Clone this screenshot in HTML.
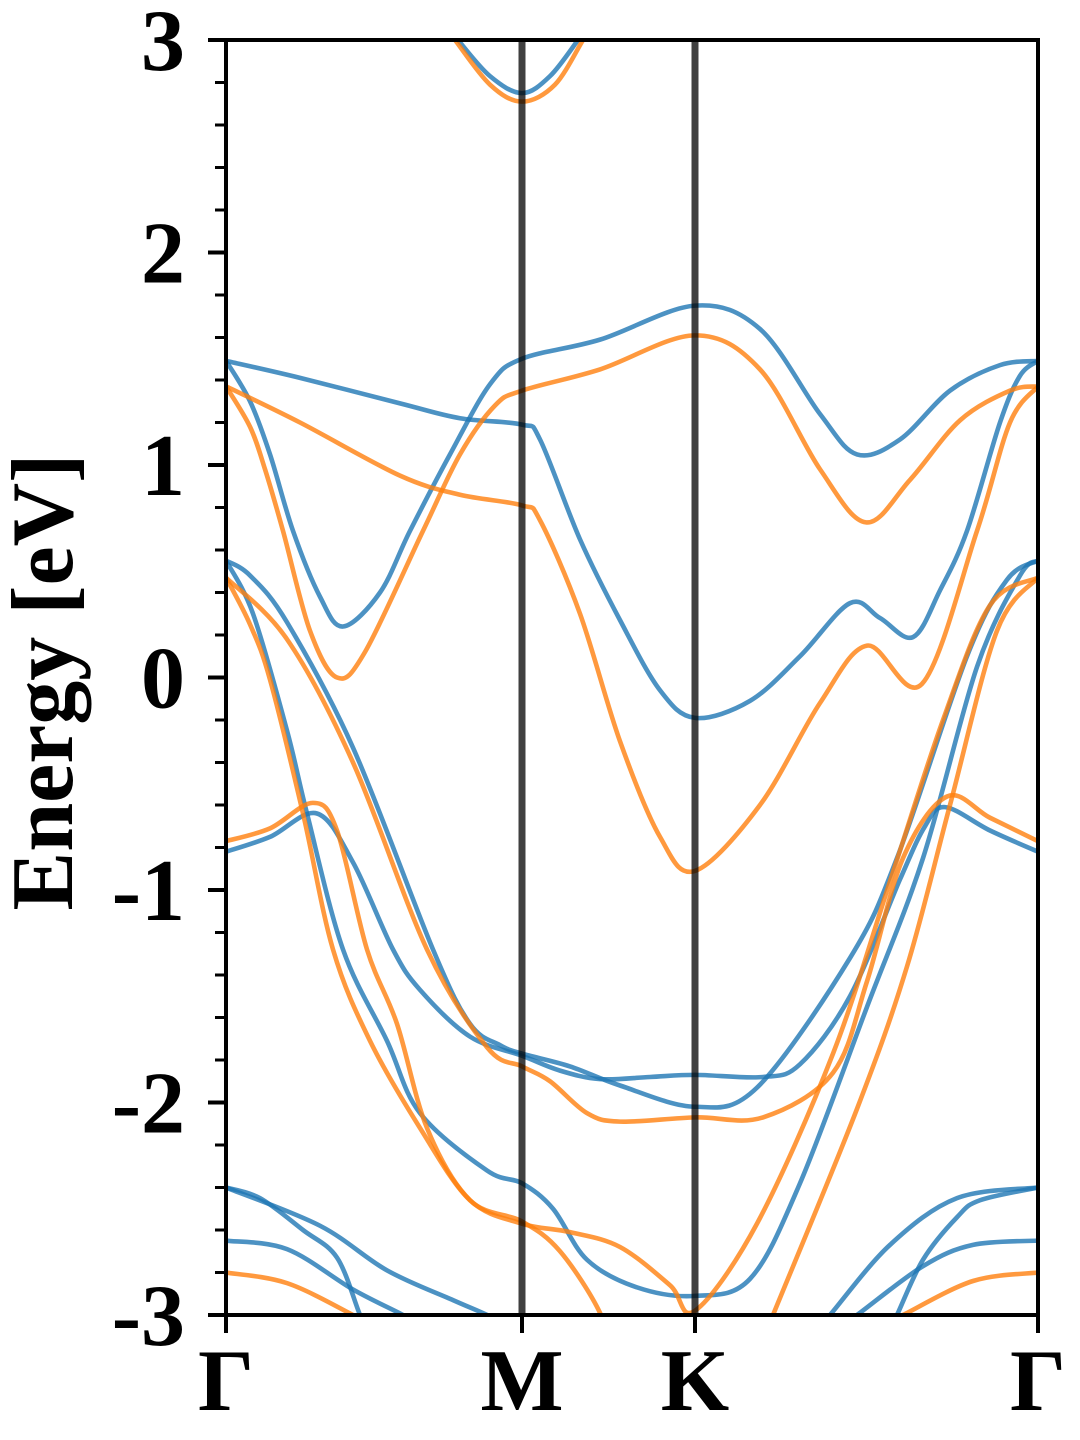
<!DOCTYPE html>
<html><head><meta charset="utf-8">
<style>
html,body{margin:0;padding:0;background:#fff;}
svg{display:block;}
text{font-family:"Liberation Serif",serif;font-weight:bold;fill:#000;}
</style></head>
<body>
<svg id="chart" width="1080" height="1440" viewBox="0 0 1080 1440" xmlns="http://www.w3.org/2000/svg">
<defs><clipPath id="plotclip"><rect x="226" y="40" width="812" height="1275"/></clipPath></defs>
<g id="bands" clip-path="url(#plotclip)"></g>
<g id="axes"></g>
</svg>
<script>
// k-path coordinates (path distance units) and high-symmetry labels
const kPoints = [0, 2.96, 4.69, 8.12];
const kLabels = ["Γ", "M", "K", "Γ"];
const yMajorTicks = [-3, -2, -1, 0, 1, 2, 3];
const yTickLabels = ["-3", "-2", "-1", "0", "1", "2", "3"];
const yMinorStep = 0.2;

// Spin-up bands (blue): [k, E] pairs
const blueBand1 = [[0,1.49],[0.74,1.41],[1.74,1.29],[2.34,1.22],[2.96,1.19],[3.14,1.12],[3.54,0.65],[3.94,0.27],[4.34,-0.06],[4.69,-0.19],[5.24,-0.11],[5.74,0.10],[6.24,0.35],[6.54,0.28],[6.87,0.19],[7.14,0.41],[7.41,0.69],[7.74,1.20],[7.94,1.42],[8.12,1.49]];
const blueBand2 = [[0,1.49],[0.24,1.30],[0.44,1.05],[0.67,0.69],[0.94,0.38],[1.17,0.24],[1.54,0.40],[1.84,0.69],[2.24,1.05],[2.64,1.38],[2.96,1.50],[3.74,1.59],[4.69,1.75],[5.34,1.64],[5.94,1.24],[6.31,1.05],[6.74,1.12],[7.24,1.35],[7.74,1.47],[8.12,1.49]];
const blueBand3 = [[0,0.55],[0.24,0.48],[0.61,0.26],[1.27,-0.33],[2.07,-1.28],[2.44,-1.63],[2.74,-1.73],[2.96,-1.77],[3.44,-1.83],[3.94,-1.92],[4.69,-2.02],[5.31,-1.93],[6.24,-1.32],[6.71,-0.85],[7.41,0.10],[7.81,0.46],[8.12,0.55]];
const blueBand4 = [[0,0.55],[0.27,0.30],[0.61,-0.25],[0.81,-0.64],[1.17,-1.28],[1.61,-1.71],[1.94,-2.05],[2.61,-2.32],[2.96,-2.38],[3.27,-2.50],[3.61,-2.74],[4.11,-2.87],[4.69,-2.91],[5.24,-2.83],[5.74,-2.38],[6.41,-1.55],[6.97,-0.85],[7.51,0.05],[7.94,0.48],[8.12,0.55]];
const blueBand5 = [[0,-0.82],[0.44,-0.75],[0.91,-0.64],[1.27,-0.87],[1.67,-1.28],[1.94,-1.47],[2.44,-1.69],[2.96,-1.78],[3.34,-1.85],[3.74,-1.89],[4.24,-1.88],[4.69,-1.87],[5.37,-1.88],[5.74,-1.82],[6.24,-1.50],[6.74,-0.95],[6.99,-0.70],[7.19,-0.61],[7.64,-0.72],[8.12,-0.82]];
const blueBand6 = [[0,-2.40],[0.94,-2.58],[1.61,-2.79],[2.27,-2.93],[2.61,-3.00],[2.84,-3.06]];
const blueBand7 = [[0,-2.40],[0.34,-2.45],[0.77,-2.60],[1.11,-2.73],[1.34,-3.00],[1.44,-3.10]];
const blueBand8 = [[0,-2.65],[0.61,-2.69],[1.27,-2.88],[1.77,-3.00],[1.94,-3.05]];
const blueBand9 = [[5.89,-3.08],[6.04,-3.00],[6.64,-2.67],[7.31,-2.45],[8.12,-2.40]];
const blueBand10 = [[6.64,-3.06],[6.71,-3.00],[6.97,-2.74],[7.31,-2.54],[7.54,-2.46],[8.12,-2.40]];
const blueBand11 = [[6.14,-3.05],[6.31,-3.00],[6.97,-2.77],[7.47,-2.67],[8.12,-2.65]];
const blueBand12 = [[2.24,3.05],[2.32,3.00],[2.64,2.83],[2.96,2.75],[3.24,2.83],[3.52,3.00],[3.59,3.05]];

// Spin-down bands (orange): [k, E] pairs
const orangeBand1 = [[0,1.37],[0.74,1.20],[1.74,0.95],[2.34,0.86],[2.96,0.81],[3.14,0.74],[3.54,0.30],[3.94,-0.30],[4.34,-0.75],[4.69,-0.91],[5.34,-0.60],[5.94,-0.12],[6.41,0.15],[6.96,-0.03],[7.51,0.69],[7.84,1.20],[8.12,1.37]];
const orangeBand2 = [[0,1.37],[0.24,1.18],[0.39,0.98],[0.57,0.69],[0.84,0.22],[1.11,0.00],[1.39,0.12],[1.97,0.69],[2.34,1.05],[2.69,1.28],[2.96,1.35],[3.74,1.45],[4.69,1.61],[5.34,1.45],[5.94,0.98],[6.40,0.73],[6.84,0.93],[7.34,1.21],[7.84,1.35],[8.12,1.37]];
const orangeBand3 = [[0,0.47],[0.61,0.18],[1.27,-0.40],[2.01,-1.28],[2.61,-1.74],[2.96,-1.83],[3.24,-1.90],[3.61,-2.05],[3.94,-2.09],[4.69,-2.07],[5.37,-2.07],[6.07,-1.86],[6.41,-1.43],[6.77,-0.85],[7.21,-0.56],[7.64,-0.66],[8.12,-0.77]];
const orangeBand4 = [[0,0.47],[0.24,0.25],[0.44,-0.01],[0.77,-0.64],[1.07,-1.28],[1.44,-1.71],[1.94,-2.12],[2.44,-2.46],[2.96,-2.57],[3.44,-2.61],[3.94,-2.68],[4.44,-2.86],[4.69,-2.98],[5.31,-2.57],[6.07,-1.77],[6.64,-0.96],[7.17,-0.20],[7.64,0.34],[8.12,0.47]];
const orangeBand5 = [[0,-0.77],[0.44,-0.71],[0.87,-0.59],[1.11,-0.72],[1.41,-1.28],[1.71,-1.63],[2.01,-2.12],[2.44,-2.46],[2.96,-2.56],[3.34,-2.70],[3.74,-2.99],[3.84,-3.20]];
const orangeBand6 = [[5.34,-3.15],[5.47,-3.00],[6.31,-2.03],[6.81,-1.36],[7.24,-0.60],[7.71,0.22],[8.12,0.47]];
const orangeBand7 = [[0,-2.80],[0.61,-2.85],[1.27,-3.00],[1.44,-3.05]];
const orangeBand8 = [[6.64,-3.03],[6.77,-3.00],[7.47,-2.84],[8.12,-2.80]];
const orangeBand9 = [[2.21,3.05],[2.29,3.00],[2.64,2.79],[2.96,2.71],[3.29,2.79],[3.57,3.00],[3.64,3.05]];

const blueBands = [blueBand1,blueBand2,blueBand3,blueBand4,blueBand5,blueBand6,blueBand7,blueBand8,blueBand9,blueBand10,blueBand11,blueBand12];
const orangeBands = [orangeBand1,orangeBand2,orangeBand3,orangeBand4,orangeBand5,orangeBand6,orangeBand7,orangeBand8,orangeBand9];

const NS = "http://www.w3.org/2000/svg";
const X0 = 226, X1 = 1038, Y0 = 1315, Y1 = 40;
const kMax = kPoints[kPoints.length - 1];
function xScale(k){ return X0 + (k / kMax) * (X1 - X0); }
function yScale(e){ return Y0 - (e + 3) / 6 * (Y0 - Y1); }

function smoothPath(pts){
  const p = pts.map(d => [xScale(d[0]), yScale(d[1])]);
  let s = "M" + p[0][0].toFixed(2) + "," + p[0][1].toFixed(2);
  for (let i = 0; i < p.length - 1; i++){
    const a = p[Math.max(i-1,0)], b = p[i], c = p[i+1], d = p[Math.min(i+2,p.length-1)];
    const c1x = b[0] + (c[0]-a[0])/6, c1y = b[1] + (c[1]-a[1])/6;
    const c2x = c[0] - (d[0]-b[0])/6, c2y = c[1] - (d[1]-b[1])/6;
    s += " C" + c1x.toFixed(2)+","+c1y.toFixed(2)+" "+c2x.toFixed(2)+","+c2y.toFixed(2)+" "+c[0].toFixed(2)+","+c[1].toFixed(2);
  }
  return s;
}

const bandsG = document.getElementById("bands");
const axesG = document.getElementById("axes");

function drawBands(list, color, prefix){
  list.forEach((b, i) => {
    const path = document.createElementNS(NS, "path");
    path.setAttribute("d", smoothPath(b));
    path.setAttribute("fill", "none");
    path.setAttribute("stroke", color);
    path.setAttribute("stroke-opacity", "0.8");
    path.setAttribute("stroke-width", "4.6");
    
    
    bandsG.appendChild(path);
  });
}
drawBands(blueBands, "#1f77b4", "spin-up");
drawBands(orangeBands, "#ff7f0e", "spin-down");

// high-symmetry vertical lines (M, K)
for (let i = 1; i < kPoints.length - 1; i++){
  const ln = document.createElementNS(NS, "line");
  const x = xScale(kPoints[i]);
  ln.setAttribute("x1", x); ln.setAttribute("x2", x);
  ln.setAttribute("y1", Y1); ln.setAttribute("y2", Y0);
  ln.setAttribute("stroke", "#000"); ln.setAttribute("stroke-opacity", "0.75");
  ln.setAttribute("stroke-width", "7");
  
  
  axesG.appendChild(ln);
}

// frame
const frame = document.createElementNS(NS, "rect");
frame.setAttribute("x", X0); frame.setAttribute("y", Y1);
frame.setAttribute("width", X1 - X0); frame.setAttribute("height", Y0 - Y1);
frame.setAttribute("fill", "none"); frame.setAttribute("stroke", "#000"); frame.setAttribute("stroke-width", "4");


axesG.appendChild(frame);

// y ticks
for (let e = -3; e <= 3.0001; e += yMinorStep){
  const v = Math.round(e * 10) / 10;
  const isMajor = Math.abs(v - Math.round(v)) < 1e-6;
  const y = yScale(v);
  const t = document.createElementNS(NS, "line");
  t.setAttribute("x1", X0 - (isMajor ? 18 : 11)); t.setAttribute("x2", X0);
  t.setAttribute("y1", y); t.setAttribute("y2", y);
  t.setAttribute("stroke", "#000"); t.setAttribute("stroke-width", isMajor ? "4" : "3");
  
  
  axesG.appendChild(t);
}
yMajorTicks.forEach((v, i) => {
  const tx = document.createElementNS(NS, "text");
  tx.setAttribute("x", 185); tx.setAttribute("y", yScale(v) + 30);
  tx.setAttribute("text-anchor", "end"); tx.setAttribute("font-size", "88");
  tx.textContent = yTickLabels[i];
  
  
  axesG.appendChild(tx);
});

// x ticks + labels
kPoints.forEach((k, i) => {
  const x = xScale(k);
  const t = document.createElementNS(NS, "line");
  t.setAttribute("x1", x); t.setAttribute("x2", x);
  t.setAttribute("y1", Y0); t.setAttribute("y2", Y0 + 18);
  t.setAttribute("stroke", "#000"); t.setAttribute("stroke-width", "4");
  
  
  axesG.appendChild(t);
  const tx = document.createElementNS(NS, "text");
  tx.setAttribute("x", x); tx.setAttribute("y", 1410);
  tx.setAttribute("text-anchor", "middle"); tx.setAttribute("font-size", "88");
  tx.textContent = kLabels[i];
  
  
  axesG.appendChild(tx);
});

// y axis title
const yt = document.createElementNS(NS, "text");
yt.setAttribute("transform", "translate(72,682) rotate(-90)");
yt.setAttribute("text-anchor", "middle"); yt.setAttribute("font-size", "88");
yt.textContent = "Energy [eV]";


axesG.appendChild(yt);
</script>
</body></html>
